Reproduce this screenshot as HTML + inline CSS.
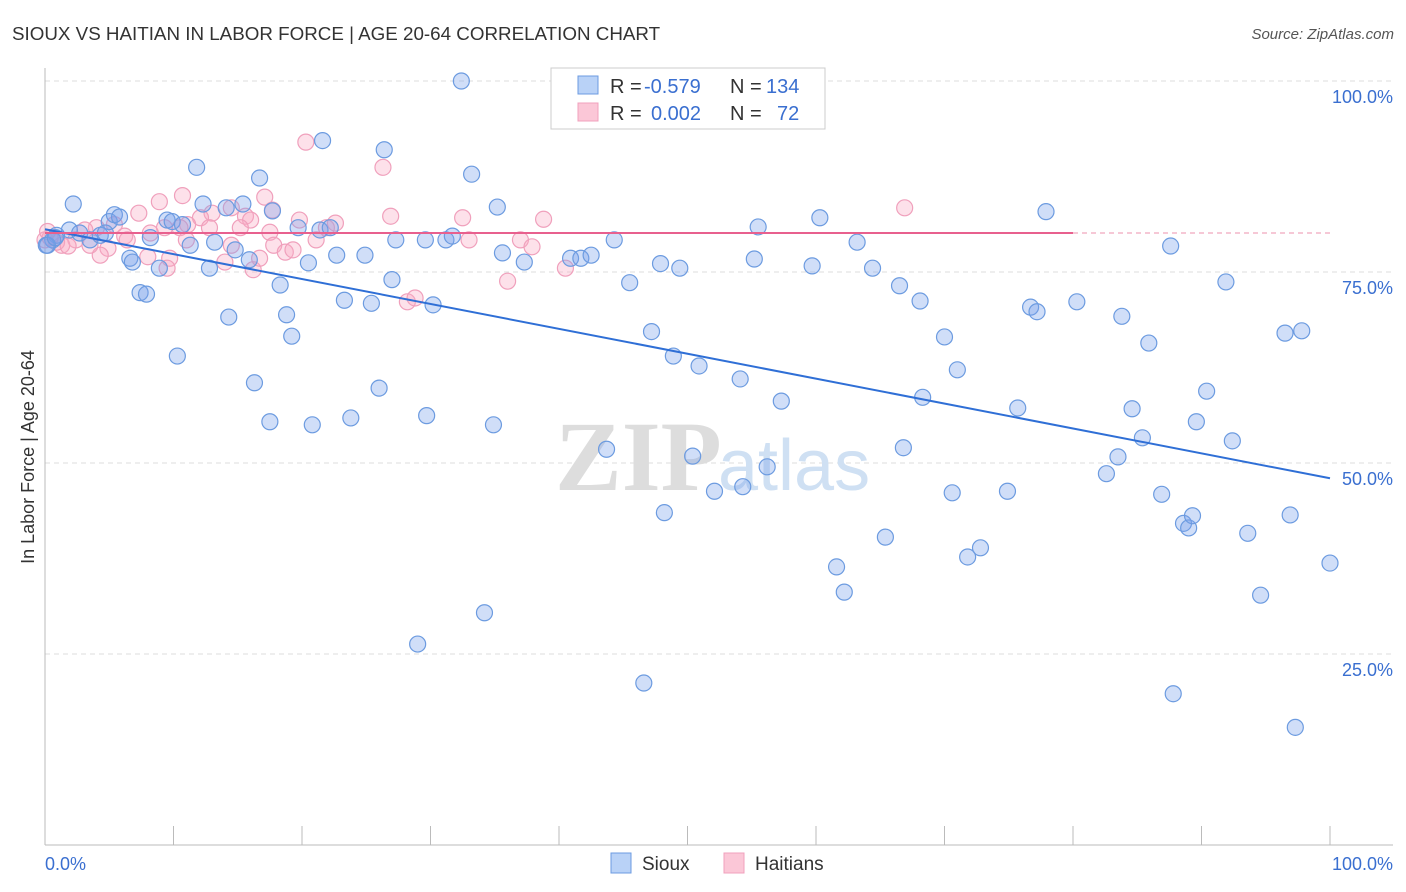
<!DOCTYPE html>
<html><head><meta charset="utf-8">
<style>
body{margin:0;background:#fff;font-family:"Liberation Sans",sans-serif;}
svg{display:block}
</style></head>
<body>
<svg id="chart" width="1406" height="892">
<text x="12" y="40" font-size="18.8" fill="#333">SIOUX VS HAITIAN IN LABOR FORCE | AGE 20-64 CORRELATION CHART</text>
<text x="1394" y="39" font-size="15" fill="#555" font-style="italic" text-anchor="end">Source: ZipAtlas.com</text>
<g id="grid"></g>
<g>
<text x="555" y="490" font-family="Liberation Serif,serif" font-size="100" fill="#ddd" font-weight="bold">ZIP</text>
<text x="718" y="490" font-size="72" fill="#cfe0f3">atlas</text>
</g>
<g id="axes"></g>
<g id="pts"></g>
<g id="trend"></g>
<text transform="translate(34,457) rotate(-90)" font-size="18" fill="#333" text-anchor="middle">In Labor Force | Age 20-64</text>
<text x="45" y="870" font-size="18" fill="#3a6fd0">0.0%</text>
<text x="1393" y="870" font-size="18" fill="#3a6fd0" text-anchor="end">100.0%</text>
<g>
<rect x="551" y="68" width="274" height="61" fill="#fff" stroke="#ccc"/>
<rect x="578" y="76" width="20" height="18" fill="#b9d2f7" stroke="#6c9be0"/>
<rect x="578" y="103" width="20" height="18" fill="#fbc7d7" stroke="#f0a0bc"/>
<text y="93" font-size="20" fill="#333"><tspan x="610">R =</tspan><tspan x="644" fill="#3a6fd0">-0.579</tspan><tspan x="730">N =</tspan><tspan x="766" fill="#3a6fd0">134</tspan></text>
<text y="120" font-size="20" fill="#333"><tspan x="610">R =</tspan><tspan x="651" fill="#3a6fd0">0.002</tspan><tspan x="730">N =</tspan><tspan x="777" fill="#3a6fd0">72</tspan></text>
</g>
<g>
<rect x="611" y="853" width="20" height="20" fill="#b9d2f7" stroke="#6c9be0"/>
<text x="642" y="870" font-size="19" fill="#333">Sioux</text>
<rect x="724" y="853" width="20" height="20" fill="#fbc7d7" stroke="#f0a0bc"/>
<text x="755" y="870" font-size="19" fill="#333">Haitians</text>
</g>
</svg>
<script>
const yTicks=[100,75,50,25];
const yTickLabels=["100.0%","75.0%","50.0%","25.0%"];
const xTicks=[10,20,30,40,50,60,70,80,90,100];
const siouxX=[32.4,21.6,11.8,26.4,33.2,16.7,2.2,12.3,15.4,14.1,17.7,35.2,5.0,5.4,5.8,9.5,9.9,10.7,1.9,2.7,0.9,0.6,0.2,3.5,4.3,4.7,6.6,6.8,8.9,8.2,11.3,13.2,14.8,15.9,12.8,19.7,21.4,22.2,20.5,22.7,24.9,27.0,18.3,23.3,25.4,30.2,27.3,31.2,31.7,29.6,35.6,37.3,40.9,41.7,42.5,44.3,7.4,7.9,14.3,18.8,19.2,10.3,16.3,26.0,45.5,47.9,49.4,47.2,48.9,50.9,54.1,57.3,55.5,60.3,63.2,55.2,59.7,64.4,66.5,68.1,70.0,71.0,68.3,77.9,87.6,76.7,77.2,80.3,83.8,85.9,91.9,96.5,97.8,75.7,84.6,85.4,90.4,89.6,92.4,83.5,82.6,86.9,88.6,89.0,89.3,93.6,96.9,100.0,94.6,87.8,97.3,17.5,20.8,23.8,29.7,34.9,43.7,50.4,56.2,52.1,54.3,48.2,66.8,70.6,74.9,65.4,61.6,62.2,71.8,72.8,34.2,29.0,46.6,0.1,0.8];
const siouxY=[100,92.2,88.7,91.0,87.8,87.3,83.9,83.9,83.9,83.4,83.0,83.5,81.6,82.5,82.2,81.8,81.6,81.2,80.5,80.1,79.8,79.2,78.5,79.2,79.8,80.1,76.8,76.3,75.5,79.5,78.5,78.9,77.9,76.6,75.5,80.8,80.5,80.8,76.2,77.2,77.2,74.0,73.3,71.3,70.9,70.7,79.2,79.2,79.7,79.2,77.5,76.3,76.8,76.8,77.2,79.2,72.3,72.1,69.1,69.4,66.6,64.0,60.5,59.8,73.6,76.1,75.5,67.2,64.0,62.7,61.0,58.1,80.9,82.1,78.9,76.7,75.8,75.5,73.2,71.2,66.5,62.2,58.6,82.9,78.4,70.4,69.8,71.1,69.2,65.7,73.7,67.0,67.3,57.2,57.1,53.3,59.4,55.4,52.9,50.8,48.6,45.9,42.1,41.5,43.1,40.8,43.2,36.9,32.7,19.8,15.4,55.4,55.0,55.9,56.2,55.0,51.8,50.9,49.5,46.3,46.9,43.5,52.0,46.1,46.3,40.3,36.4,33.1,37.7,38.9,30.4,26.3,21.2,78.5,79.5];
const haitiX=[20.3,26.3,66.9,10.7,8.9,17.1,17.7,7.3,14.5,13.0,15.6,16.0,12.1,11.1,10.5,9.3,8.2,6.2,5.4,4.0,3.1,2.4,1.3,0.9,0.4,1.8,4.9,4.3,8.0,9.7,9.5,11.0,14.5,16.2,17.5,17.8,18.7,19.3,19.8,21.1,21.9,22.6,26.9,32.5,33.0,38.8,37.0,37.9,40.5,36.0,28.2,28.8,14.0,16.7,6.4,3.5,12.8,15.2,0,0.2];
const haitiY=[92.0,88.7,83.4,85.0,84.2,84.8,83.1,82.7,83.4,82.7,82.3,81.8,82.1,81.2,80.8,80.8,80.1,79.7,81.2,80.8,80.5,79.2,78.5,78.9,79.5,78.4,78.1,77.2,77.0,76.8,75.5,79.2,78.5,75.3,80.2,78.5,77.6,77.9,81.8,79.2,80.8,81.4,82.3,82.1,79.2,81.9,79.2,78.3,75.5,73.8,71.1,71.6,76.3,76.8,79.2,78.5,80.8,80.8,79.2,80.3];
const siouxTrend=[80.6,48.0];
const haitiTrend=[80.1,80.1];
const haitiTrendEnd=80;

const NS="http://www.w3.org/2000/svg";
const X0=45,X1=1330,Y0=845,Y100=81;
function sx(v){return X0+(X1-X0)*v/100;}
function sy(v){return Y0-(Y0-Y100)*v/100;}
function mk(tag,attrs,parent){const e=document.createElementNS(NS,tag);for(const k in attrs)e.setAttribute(k,attrs[k]);parent.appendChild(e);return e;}
const grid=document.getElementById('grid'),axes=document.getElementById('axes'),pts=document.getElementById('pts'),trend=document.getElementById('trend');
yTicks.forEach((t,i)=>{
  const l=mk('line',{x1:X0,x2:1393,y1:sy(t),y2:sy(t),stroke:'#ddd','stroke-dasharray':'5,4'},grid);
  
  
  const tx=mk('text',{x:1393,y:sy(t)+22,'font-size':18,fill:'#3a6fd0','text-anchor':'end'},grid);
  tx.textContent=yTickLabels[i];
  
  
});
const ya=mk('line',{x1:X0,x2:X0,y1:68,y2:Y0,stroke:'#bbb'},axes);


const xa=mk('line',{x1:X0,x2:1393,y1:Y0,y2:Y0,stroke:'#bbb'},axes);


xTicks.forEach(t=>{
  const l=mk('line',{x1:sx(t),x2:sx(t),y1:Y0,y2:Y0-19,stroke:'#bbb'},axes);
  
  
});
haitiX.forEach((x,i)=>{
  const c=mk('circle',{cx:sx(x),cy:sy(haitiY[i]),r:8,fill:'rgba(248,170,196,0.35)',stroke:'#f0a0bc','stroke-width':1.2},pts);
  
  
});
siouxX.forEach((x,i)=>{
  const c=mk('circle',{cx:sx(x),cy:sy(siouxY[i]),r:8,fill:'rgba(120,160,235,0.35)',stroke:'#6c9be0','stroke-width':1.2},pts);
  
  
});
const st=mk('line',{x1:sx(0),y1:sy(siouxTrend[0]),x2:sx(100),y2:sy(siouxTrend[1]),stroke:'#2f6fd6','stroke-width':2},trend);


const ht=mk('line',{x1:sx(0),y1:sy(haitiTrend[0]),x2:sx(haitiTrendEnd),y2:sy(haitiTrend[1]),stroke:'#e8608e','stroke-width':2},trend);


const hd=mk('line',{x1:sx(haitiTrendEnd),y1:sy(haitiTrend[1]),x2:sx(100),y2:sy(haitiTrend[1]),stroke:'#f3b5c9','stroke-width':1.5,'stroke-dasharray':'5,4'},trend);


</script>
</body></html>
